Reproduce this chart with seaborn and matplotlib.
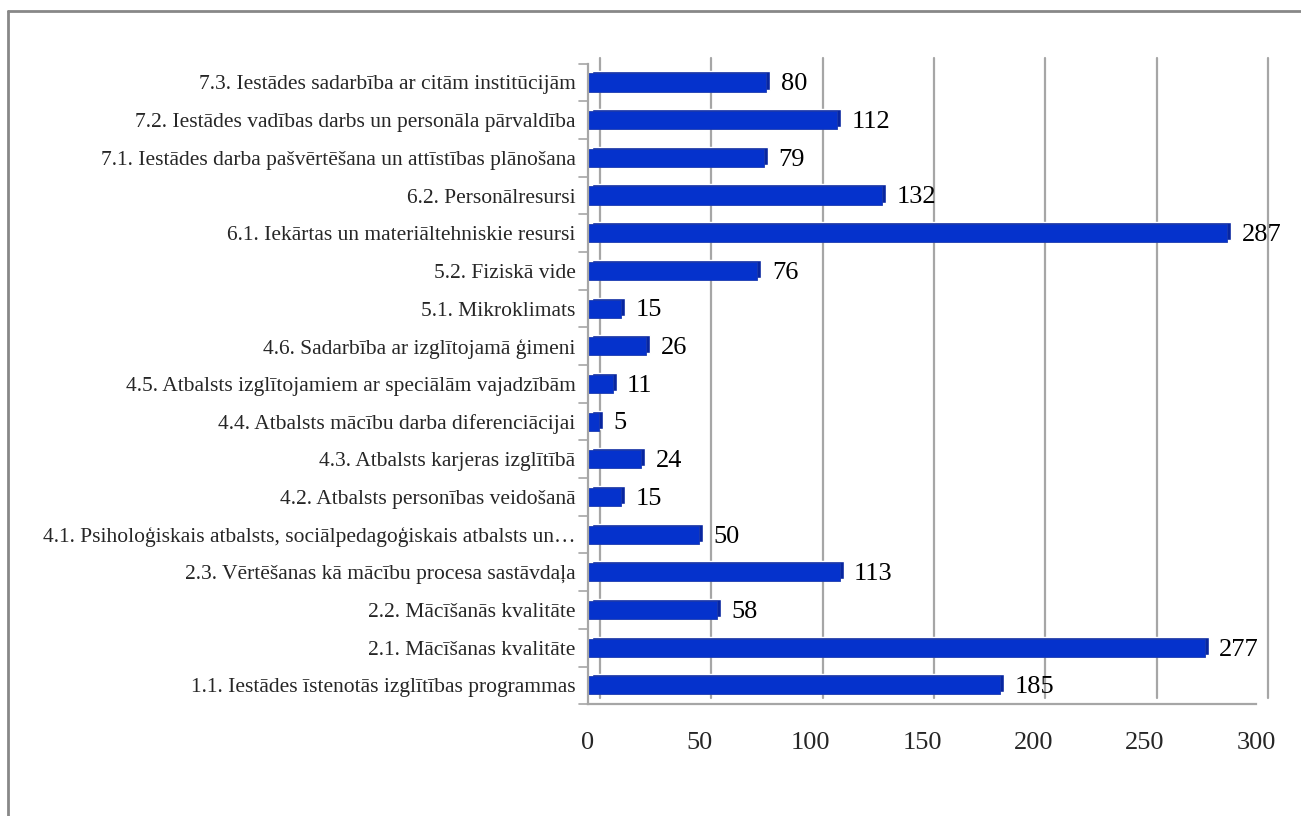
import numpy as np
import matplotlib.pyplot as plt
import matplotlib.transforms as mtransforms
from matplotlib.lines import Line2D
import seaborn as sns
import pandas as pd

categories = [
    "7.3. Iestādes sadarbība ar citām institūcijām",
    "7.2. Iestādes vadības darbs un personāla pārvaldība",
    "7.1. Iestādes darba pašvērtēšana un attīstības plānošana",
    "6.2. Personālresursi",
    "6.1. Iekārtas un materiāltehniskie resursi",
    "5.2. Fiziskā vide",
    "5.1. Mikroklimats",
    "4.6. Sadarbība ar izglītojamā ģimeni",
    "4.5. Atbalsts izglītojamiem ar speciālām vajadzībām",
    "4.4. Atbalsts mācību darba diferenciācijai",
    "4.3. Atbalsts karjeras izglītībā",
    "4.2. Atbalsts personības veidošanā",
    "4.1. Psiholoģiskais atbalsts, sociālpedagoģiskais atbalsts un…",
    "2.3. Vērtēšanas kā mācību procesa sastāvdaļa",
    "2.2. Mācīšanās kvalitāte",
    "2.1. Mācīšanas kvalitāte",
    "1.1. Iestādes īstenotās izglītības programmas",
]
values = [80, 112, 79, 132, 287, 76, 15, 26, 11, 5, 24, 15, 50, 113, 58, 277, 185]
x_ticks = [0, 50, 100, 150, 200, 250, 300]

df = pd.DataFrame({"kategorija": categories, "skaits": values})

sns.set_style("white")
plt.rcParams['font.family'] = ['Liberation Serif', 'DejaVu Serif']

fig = plt.figure(figsize=(13.01, 8.16), dpi=100)
ax = fig.add_axes([0.452, 0.137, 0.5135, 0.785])

# gridlines of the "back wall" (shifted a little right/up like the 3D chart)
shift = mtransforms.ScaledTranslation(12 / 100, 6 / 100, fig.dpi_scale_trans)
for t in x_ticks:
    ax.plot([t, t], [-0.5, 16.5], color="#a6a6a6", lw=1.6,
            transform=ax.transData + shift, zorder=0, clip_on=False)

# bars, with a slightly shifted darker copy behind them for a bit of depth
depth = mtransforms.ScaledTranslation(4 / 100, 2 / 100, fig.dpi_scale_trans)
sns.barplot(data=df, y="kategorija", x="skaits", orient="h", color="#0826a0",
            width=0.48, saturation=1, ax=ax, zorder=1)
for p in ax.patches:
    p.set_transform(ax.transData + depth)
n_back = len(ax.patches)
sns.barplot(data=df, y="kategorija", x="skaits", orient="h", color="#0532cc",
            width=0.48, saturation=1, ax=ax, zorder=2)
for p in ax.patches[n_back:]:
    p.set_edgecolor("#1c3bb0")
    p.set_linewidth(0.6)

for i, v in enumerate(values):
    ax.text(v + 6.5, i + 0.05, str(v), va="center", ha="left", fontsize=19, color="black")

ax.set_xlim(0, 300)
ax.set_ylim(16.5, -0.5)
ax.set_xticks(x_ticks)
ax.set_xticklabels([str(t) for t in x_ticks], fontsize=19)
ax.set_xlabel("")
ax.set_ylabel("")
ax.set_yticks(np.arange(len(categories)))
ax.set_yticklabels(categories, fontsize=15.5)
ax.tick_params(axis="y", length=0, pad=9)
ax.tick_params(axis="x", length=6, width=1.2, color="#a6a6a6", direction="out", pad=14)

# small category divider ticks on the left
for b in np.arange(-0.5, len(categories) + 0.5, 1):
    ax.add_line(Line2D([-4, 0], [b, b], color="#a6a6a6", lw=1.2, clip_on=False))

for s in ["top", "right"]:
    ax.spines[s].set_visible(False)
ax.spines["left"].set_color("#a6a6a6")
ax.spines["left"].set_linewidth(1.6)
ax.spines["bottom"].set_color("#a6a6a6")
ax.spines["bottom"].set_linewidth(1.6)

# outer frame (left and top edges)
fig.add_artist(Line2D([0.0065, 0.0065], [0, 0.986], color="#888888", lw=2, transform=fig.transFigure))
fig.add_artist(Line2D([0.0065, 1], [0.986, 0.986], color="#888888", lw=2, transform=fig.transFigure))

plt.savefig("out.png", dpi=100)
